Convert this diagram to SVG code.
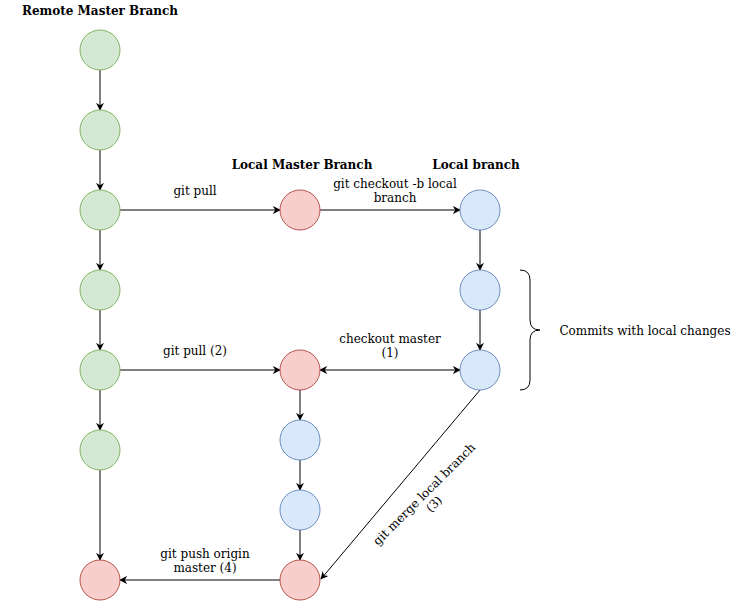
<svg xmlns="http://www.w3.org/2000/svg" width="751" height="601" viewBox="0 0 751 601">
<style>
text{font-family:"DejaVu Serif","Liberation Serif",serif;font-size:12px;fill:#000;text-anchor:middle}
.b{font-weight:bold}
.g{fill:#d5e8d4;stroke:#82b366}
.r{fill:#f8cecc;stroke:#b85450}
.u{fill:#dae8fc;stroke:#6c8ebf}
.e{stroke:#000;stroke-width:1;fill:none}
</style>
<defs>
<marker id="a" viewBox="0 0 10 10" refX="9" refY="5" markerWidth="8" markerHeight="8" markerUnits="userSpaceOnUse" orient="auto-start-reverse">
<path d="M0,0 L10,5 L0,10 L3,5 Z" fill="#000"/>
</marker>
</defs>
<rect width="751" height="601" fill="#fff"/>
<g id="labels">
<text class="b" x="100" y="15">Remote Master Branch</text>
<text class="b" x="302" y="169">Local Master Branch</text>
<text class="b" x="476" y="169">Local branch</text>
</g>
<g id="connectors">
<path class="e" d="M100,70 V110" marker-end="url(#a)"/>
<path class="e" d="M100,150 V190" marker-end="url(#a)"/>
<path class="e" d="M100,230 V270" marker-end="url(#a)"/>
<path class="e" d="M100,310 V350" marker-end="url(#a)"/>
<path class="e" d="M100,390 V430" marker-end="url(#a)"/>
<path class="e" d="M100,470 V560" marker-end="url(#a)"/>
<path class="e" d="M120,210 H280" marker-end="url(#a)"/>
<path class="e" d="M320,210 H460" marker-end="url(#a)"/>
<path class="e" d="M480,230 V270" marker-end="url(#a)"/>
<path class="e" d="M480,310 V350" marker-end="url(#a)"/>
<path class="e" d="M120,370 H280" marker-end="url(#a)"/>
<path class="e" d="M320,370 H460" marker-start="url(#a)" marker-end="url(#a)"/>
<path class="e" d="M300,390 V420" marker-end="url(#a)"/>
<path class="e" d="M300,460 V490" marker-end="url(#a)"/>
<path class="e" d="M300,530 V560" marker-end="url(#a)"/>
<path class="e" d="M480,390 L321,579" marker-end="url(#a)"/>
<path class="e" d="M280,580 H120" marker-end="url(#a)"/>
<path class="e" d="M520,270 Q530,270 530,280 V320 Q530,330 540,330 Q530,330 530,340 V380 Q530,390 520,390"/>
</g>
<g id="edge-labels">
<text x="195" y="195">git pull</text>
<text x="395" y="188">git checkout -b local</text>
<text x="395" y="202">branch</text>
<text x="195" y="355">git pull (2)</text>
<text x="390" y="343">checkout master</text>
<text x="390" y="357">(1)</text>
<text x="205" y="558">git push origin</text>
<text x="205" y="572">master (4)</text>
<g transform="translate(427,497) rotate(-45)">
<text x="0" y="0">git merge local branch</text>
<text x="0" y="14">(3)</text>
</g>
<text x="645" y="335">Commits with local changes</text>
</g>
<g id="n1"><circle class="g" cx="100" cy="50" r="20"/></g>
<g id="n2"><circle class="g" cx="100" cy="130" r="20"/></g>
<g id="n3"><circle class="g" cx="100" cy="210" r="20"/></g>
<g id="n4"><circle class="g" cx="100" cy="290" r="20"/></g>
<g id="n5"><circle class="g" cx="100" cy="370" r="20"/></g>
<g id="n6"><circle class="g" cx="100" cy="450" r="20"/></g>
<g id="n7"><circle class="r" cx="100" cy="580" r="20"/></g>
<g id="m1"><circle class="r" cx="300" cy="210" r="20"/></g>
<g id="m2"><circle class="r" cx="300" cy="370" r="20"/></g>
<g id="m3"><circle class="u" cx="300" cy="440" r="20"/></g>
<g id="m4"><circle class="u" cx="300" cy="510" r="20"/></g>
<g id="m5"><circle class="r" cx="300" cy="580" r="20"/></g>
<g id="l1"><circle class="u" cx="480" cy="210" r="20"/></g>
<g id="l2"><circle class="u" cx="480" cy="290" r="20"/></g>
<g id="l3"><circle class="u" cx="480" cy="370" r="20"/></g>
</svg>
